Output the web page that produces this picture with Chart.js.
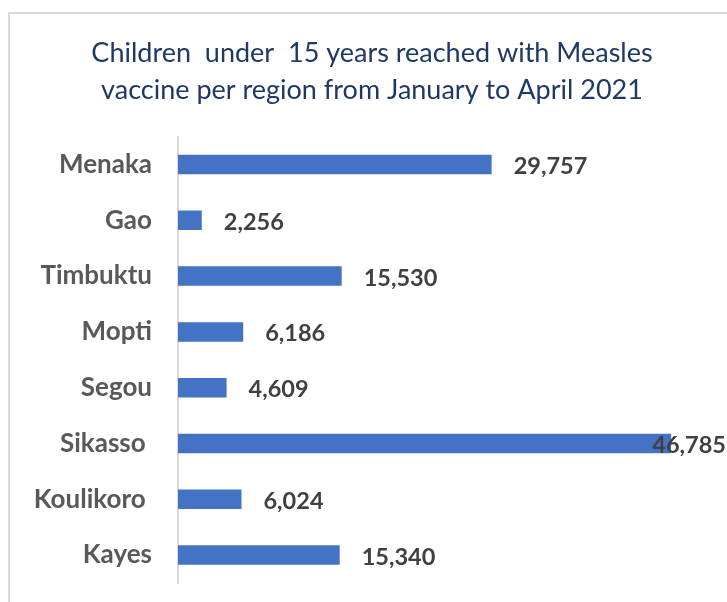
<!DOCTYPE html>
<html>
<head>
<meta charset="utf-8">
<script src="https://cdn.jsdelivr.net/npm/chart.js@4/dist/chart.umd.min.js"></script>
<style>
html,body{margin:0;padding:0;background:#fff;}
#wrap{width:727px;height:602px;position:relative;}
</style>
</head>
<body>
<div id="wrap"><canvas id="c" width="727" height="602"></canvas></div>
<script>
const titleLines = ["Children  under  15 years reached with Measles", "vaccine per region from January to April 2021"];
const regions = ["Menaka", "Gao", "Timbuktu", "Mopti", "Segou", "Sikasso ", "Koulikoro ", "Kayes"];
const reached = [29757, 2256, 15530, 6186, 4609, 46785, 6024, 15340];
const axisMin = 0;
const axisMax = 50000;

const framePlugin = {
  id: 'frame',
  afterLayout(chart) {
    const t = chart.titleBlock;
    if (t) { t.left += 11; t.right += 11; }
  },
  beforeDraw(chart) {
    const ctx = chart.ctx;
    ctx.save();
    ctx.fillStyle = '#ffffff';
    ctx.fillRect(0, 0, chart.width, chart.height);
    ctx.strokeStyle = '#d9d9d9';
    ctx.lineWidth = 2;
    ctx.beginPath();
    ctx.moveTo(9, chart.height);
    ctx.lineTo(9, 13);
    ctx.lineTo(chart.width, 13);
    ctx.stroke();
    ctx.restore();
  }
};

const valueLabels = {
  id: 'valueLabels',
  afterDatasetsDraw(chart) {
    const ctx = chart.ctx;
    const meta = chart.getDatasetMeta(0);
    ctx.save();
    ctx.font = 'bold 23.5px Lato, "Open Sans", sans-serif';
    ctx.fillStyle = '#404040';
    ctx.textBaseline = 'middle';
    ctx.textAlign = 'left';
    meta.data.forEach((bar, i) => {
      const txt = chart.data.datasets[0].data[i].toLocaleString('en-US');
      const w = ctx.measureText(txt).width;
      let x = bar.x + 22;
      if (x + w > chart.width - 1) x = chart.width - 1 - w;
      ctx.fillText(txt, x, bar.y + 2);
    });
    ctx.restore();
  }
};

new Chart(document.getElementById('c'), {
  type: 'bar',
  data: {
    labels: regions,
    datasets: [{
      data: reached,
      backgroundColor: '#4472c4',
      borderWidth: 0,
      categoryPercentage: 1,
      barPercentage: 0.35
    }]
  },
  options: {
    indexAxis: 'y',
    responsive: false,
    animation: false,
    layout: { padding: { left: 17, right: 22, top: 0, bottom: 19 } },
    plugins: {
      legend: { display: false },
      tooltip: { enabled: false },
      title: {
        display: true,
        text: titleLines,
        color: '#203864',
        font: { family: 'Lato, "Open Sans", sans-serif', size: 27, weight: 'normal', lineHeight: 1.4 },
        padding: { top: 34, bottom: 27 }
      }
    },
    scales: {
      x: {
        display: false,
        min: axisMin,
        max: axisMax
      },
      y: {
        afterFit(s) { s.width = 161; s.paddingTop = 0; s.paddingBottom = 0; },
        grid: { display: false },
        border: { display: true, color: '#d9d9d9', width: 2 },
        ticks: {
          color: '#595959',
          padding: 18,
          font: { family: 'Lato, "Open Sans", sans-serif', size: 26, weight: 'bold' }
        }
      }
    }
  },
  plugins: [framePlugin, valueLabels]
});
</script>
</body>
</html>
